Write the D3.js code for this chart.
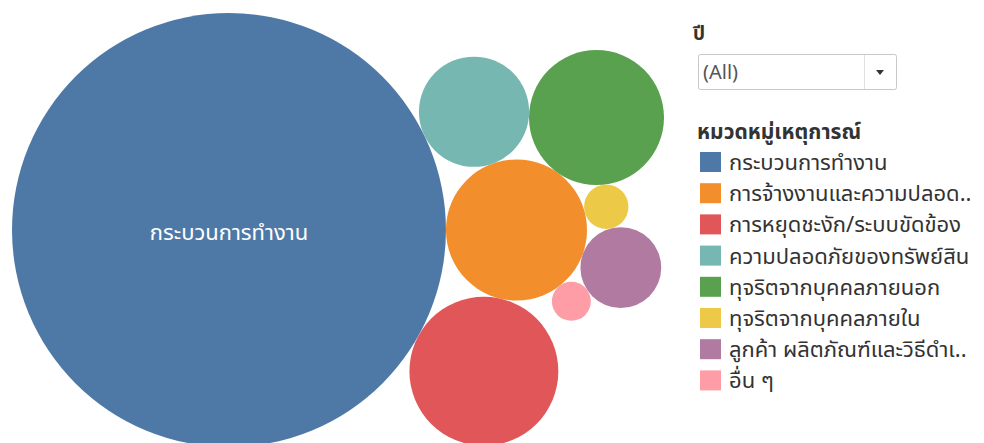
<!DOCTYPE html>
<html>
<head>
<meta charset="utf-8">
<script src="https://cdn.jsdelivr.net/npm/d3@7"></script>
<style>
  body { margin: 0; background: #fff; }
  svg text { font-family: Tahoma, "Noto Sans Thai", "Leelawadee UI", "DejaVu Sans", sans-serif; }
</style>
</head>
<body>
<div id="chart"></div>
<script>
// categories as shown in the legend (Tableau cuts the long ones with "..")
const categories = [
    "กระบวนการทำงาน",
    "การจ้างงานและความปลอด..",
    "การหยุดชะงัก/ระบบขัดข้อง",
    "ความปลอดภัยของทรัพย์สิน",
    "ทุจริตจากบุคคลภายนอก",
    "ทุจริตจากบุคคลภายใน",
    "ลูกค้า ผลิตภัณฑ์และวิธีดำเ..",
    "อื่น ๆ"
];
const counts = [1240, 131, 146, 80, 120, 13, 43, 10];
const colors = ["#4e79a7", "#f28e2b", "#e15759", "#76b7b2", "#59a14f", "#edc948", "#b07aa1", "#ff9da7"];
const yearOptions = ["(All)"];

const width = 984, height = 443;
const area = { x0: 12, x1: 664, y0: 13, y1: 447 };

const svg = d3.select("#chart").append("svg")
    .attr("width", width)
    .attr("height", height);

// circle tangent to a and b, on the outer side of the a -> b step (clockwise chain)
function tangent(a, b, r) {
    const dx = b.x - a.x, dy = b.y - a.y, d = Math.hypot(dx, dy);
    const da = a.r + r, db = b.r + r;
    const along = (d * d + da * da - db * db) / (2 * d);
    const h = Math.sqrt(Math.max(0, da * da - along * along));
    const ux = dx / d, uy = dy / d;
    return { x: a.x + along * ux + h * uy, y: a.y + along * uy - h * ux };
}

// packed bubbles in data order, wrapping round the second bubble like Tableau does
function packBubbles(nodes) {
    const [c0, c1, c2] = nodes;
    c0.x = 0; c0.y = 0;
    if (c1) { c1.x = c0.r + c1.r; c1.y = 0; }
    if (c2) Object.assign(c2, tangent(c1, c0, c2.r));
    const chain = [c0, c1, c2].filter(Boolean);
    let pivot = 1;
    for (let i = 3; i < nodes.length; i++) {
        const c = nodes[i];
        for (let k = 0; k < chain.length; k++) {
            const bi = (pivot + k) % chain.length;
            const ai = (bi - 1 + chain.length) % chain.length;
            Object.assign(c, tangent(chain[ai], chain[bi], c.r));
            const hit = nodes.slice(0, i).some(o => Math.hypot(o.x - c.x, o.y - c.y) < o.r + c.r - 1e-6);
            if (!hit) {
                chain.splice(bi, 0, c);
                pivot = bi + 1;
                break;
            }
        }
    }
}

// layout at unit size, then fit into the view
const unitR = d3.scaleSqrt().domain([0, d3.max(counts)]).range([0, 1]);
const nodes = categories.map((name, i) => ({ name, value: counts[i], color: colors[i], r: unitR(counts[i]) }));
packBubbles(nodes);

const bx0 = d3.min(nodes, d => d.x - d.r), bx1 = d3.max(nodes, d => d.x + d.r);
const by0 = d3.min(nodes, d => d.y - d.r), by1 = d3.max(nodes, d => d.y + d.r);
const k = Math.min((area.x1 - area.x0) / (bx1 - bx0), (area.y1 - area.y0) / (by1 - by0));
const cxMid = (area.x0 + area.x1) / 2, cyMid = (area.y0 + area.y1) / 2;

const radius = d3.scaleSqrt().domain([0, d3.max(counts)]).range([0, k]);
const x = d3.scaleLinear().domain([bx0, bx1])
    .range([cxMid - k * (bx1 - bx0) / 2, cxMid + k * (bx1 - bx0) / 2]);
const y = d3.scaleLinear().domain([by0, by1])
    .range([cyMid - k * (by1 - by0) / 2, cyMid + k * (by1 - by0) / 2]);

const bubbles = svg.append("g");

bubbles.selectAll("circle")
    .data(nodes)
    .enter()
    .append("circle")
    .attr("cx", d => x(d.x))
    .attr("cy", d => y(d.y))
    .attr("r", d => radius(d.value))
    .attr("fill", d => d.color);

// only the big bubble has room for its label
bubbles.selectAll("text")
    .data(nodes.filter(d => radius(d.value) > 100))
    .enter()
    .append("text")
    .attr("x", d => x(d.x))
    .attr("y", d => y(d.y) + 10)
    .attr("text-anchor", "middle")
    .style("font-size", "22px")
    .style("fill", "#fff")
    .text(d => d.name);

// year filter
const filter = svg.append("g").attr("transform", "translate(693,0)");

filter.append("text")
    .attr("x", 0)
    .attr("y", 40)
    .style("font-size", "19px")
    .style("font-weight", "bold")
    .style("fill", "#333")
    .text("ปี");

filter.append("rect")
    .attr("x", 5.5)
    .attr("y", 54.5)
    .attr("width", 198)
    .attr("height", 35)
    .attr("rx", 2)
    .attr("fill", "#fff")
    .attr("stroke", "#c8c8c8");

filter.append("line")
    .attr("x1", 171.5).attr("x2", 171.5)
    .attr("y1", 55).attr("y2", 89)
    .attr("stroke", "#e0e0e0");

filter.append("path")
    .attr("d", "M183,70 L191,70 L187,75 Z")
    .attr("fill", "#333");

filter.append("text")
    .attr("x", 10)
    .attr("y", 79)
    .style("font-size", "20px")
    .style("fill", "#555")
    .text(yearOptions[0]);

// colour legend
const legend = svg.append("g").attr("transform", "translate(697,0)");

legend.append("text")
    .attr("x", 0)
    .attr("y", 139)
    .style("font-size", "21px")
    .style("font-weight", "bold")
    .style("fill", "#333")
    .text("หมวดหมู่เหตุการณ์");

const rows = legend.selectAll("g.row")
    .data(nodes)
    .enter()
    .append("g")
    .attr("class", "row")
    .attr("transform", (d, i) => `translate(0, ${152 + i * 31.2})`);

rows.append("rect")
    .attr("x", 3)
    .attr("width", 21)
    .attr("height", 20)
    .attr("fill", d => d.color);

rows.append("text")
    .attr("x", 32)
    .attr("y", 18)
    .style("font-size", "22px")
    .style("fill", "#333")
    .text(d => d.name);
</script>
</body>
</html>
